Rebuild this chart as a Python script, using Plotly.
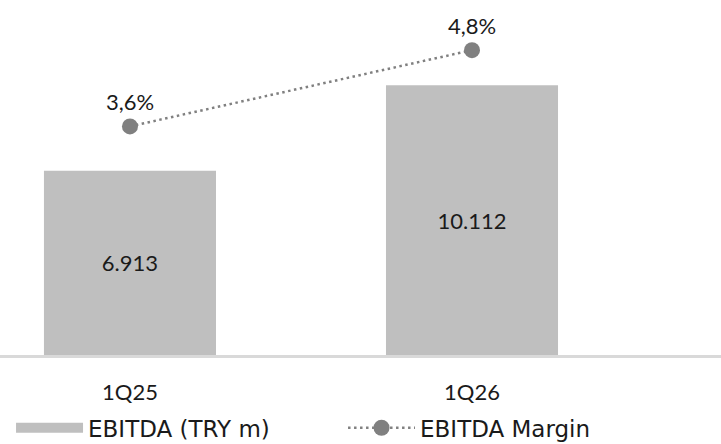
import plotly.graph_objects as go

categories = ["1Q25", "1Q26"]
ebitda = [6913, 10112]
margin_pct = [3.6, 4.8]
bar_name = "EBITDA (TRY m)"
line_name = "EBITDA Margin"

NUM_FONT = "Lato"
LEG_FONT = "DejaVu Sans"
BAR_COLOR = "#BFBFBF"
LINE_COLOR = "#808080"
TEXT_COLOR = "#1a1a1a"

fig = go.Figure()
fig.add_trace(go.Bar(
    x=categories, y=ebitda, name=bar_name, showlegend=False,
    marker=dict(color=BAR_COLOR, line=dict(width=0)),
    texttemplate="%{y:,.0f}", textposition="inside", insidetextanchor="middle",
    textfont=dict(family=NUM_FONT, size=22, color=TEXT_COLOR),
    width=0.503,
))
# legend entry for the bars (wide swatch like the reference)
fig.add_trace(go.Scatter(
    x=[None], y=[None], name=bar_name, mode="lines",
    line=dict(color=BAR_COLOR, width=13),
))
fig.add_trace(go.Scatter(
    x=categories, y=margin_pct, name=line_name, yaxis="y2",
    mode="lines+markers+text",
    line=dict(color=LINE_COLOR, width=2.5, dash="2.5px,3.5px"),
    marker=dict(color=LINE_COLOR, size=16),
    texttemplate="%{y:.1f}%", textposition="top center",
    textfont=dict(family=NUM_FONT, size=22, color=TEXT_COLOR),
    cliponaxis=False,
))

fig.update_layout(
    width=721, height=444,
    margin=dict(l=0, r=0, t=0, b=89, autoexpand=False),
    paper_bgcolor="white", plot_bgcolor="white",
    separators=",.",
    font=dict(family=NUM_FONT, size=21, color=TEXT_COLOR),
    showlegend=True,
    legend=dict(orientation="h", x=0.0153, y=-0.205, xanchor="left", yanchor="middle",
                font=dict(family=LEG_FONT, size=23, color=TEXT_COLOR),
                itemwidth=67, entrywidth=250, traceorder="normal",
                bgcolor="rgba(0,0,0,0)"),
    xaxis=dict(range=[-0.38, 1.728], showgrid=False, zeroline=False,
               showline=True, linecolor="#D9D9D9", linewidth=3,
               ticks="", ticklabelstandoff=16,
               tickfont=dict(family=NUM_FONT, size=22, color=TEXT_COLOR)),
    yaxis=dict(range=[0, 13312], visible=False, showgrid=False, zeroline=False),
    yaxis2=dict(range=[0, 5.59], overlaying="y", side="right", visible=False,
                showgrid=False, zeroline=False),
)

fig.write_html("out.html", config={"displayModeBar": False},
               post_script="document.body.style.margin='0';")
